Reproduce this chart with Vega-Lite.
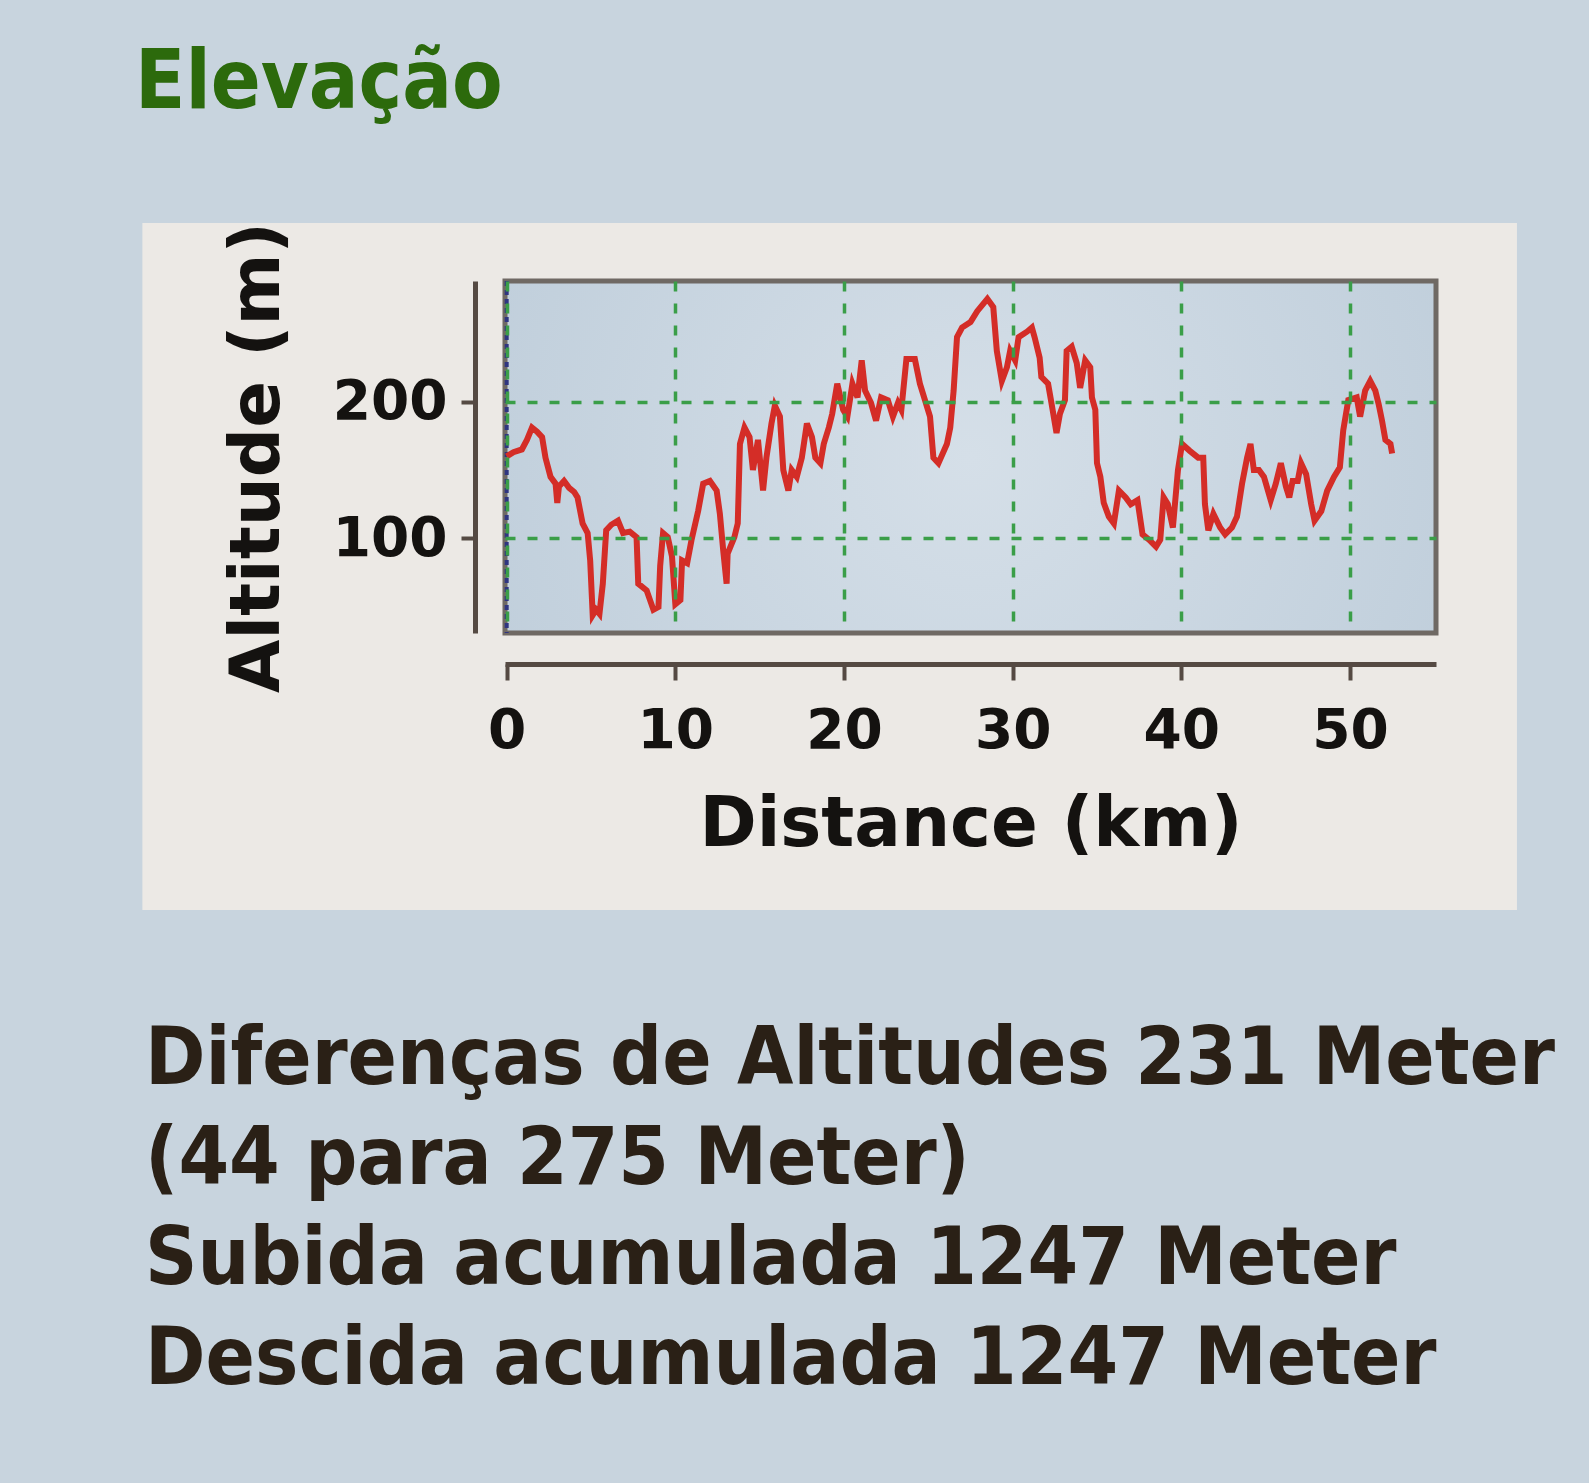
{
  "$schema": "https://vega.github.io/schema/vega-lite/v6.json",
  "width": 931,
  "height": 352,
  "autosize": {"type": "none"},
  "padding": {"left": 505, "top": 281, "right": 153, "bottom": 850},
  "background": "#c8d4de",
  "title": {
    "text": "Elevação",
    "anchor": "start",
    "frame": "group",
    "orient": "top",
    "baseline": "alphabetic",
    "offset": 32,
    "dx": -370,
    "font": "DejaVu Sans Condensed, DejaVu Sans",
    "fontSize": 82,
    "fontWeight": "bold",
    "color": "#2c6a0c"
  },
  "config": {
    "view": {"stroke": null},
    "axis": {
      "grid": true,
      "gridColor": "#3a9e48",
      "gridDash": [10, 12],
      "gridWidth": 3.5,
      "gridOpacity": 1,
      "domainColor": "#554a43",
      "domainWidth": 5,
      "tickColor": "#554a43",
      "tickWidth": 4,
      "labelFont": "DejaVu Sans",
      "labelFontSize": 55,
      "labelFontWeight": "bold",
      "labelColor": "#141210",
      "labelFlush": false,
      "labelOverlap": false,
      "titleFont": "DejaVu Sans",
      "titleFontSize": 69,
      "titleFontWeight": "bold",
      "titleColor": "#141210"
    }
  },
  "layer": [
    {
      "data": {"values": [{"panel": "chart"}]},
      "mark": {"type": "rect", "fill": "#ece9e5"},
      "encoding": {
        "x": {"datum": -21.6, "type": "quantitative", "scale": {"domain": [-0.1, 55.1], "nice": false, "zero": false}},
        "x2": {"datum": 59.9},
        "y": {"datum": 330.3, "type": "quantitative", "scale": {"domain": [31, 288], "nice": false, "zero": false}},
        "y2": {"datum": -171.3}
      }
    },
    {
      "data": {"values": [{"panel": "plot"}]},
      "mark": {
        "type": "rect",
        "fill": {"gradient": "radial", "x1": 0.5, "y1": 0.5, "x2": 0.5, "y2": 0.5, "r1": 0, "r2": 0.75,
          "stops": [{"offset": 0, "color": "#d5dfe8"}, {"offset": 1, "color": "#b9c9d7"}]},
        "stroke": "#6f6964",
        "strokeWidth": 5
      },
      "encoding": {
        "x": {"datum": -0.1, "type": "quantitative", "scale": {"domain": [-0.1, 55.1], "nice": false, "zero": false}},
        "x2": {"datum": 55.1},
        "y": {"datum": 288, "type": "quantitative", "scale": {"domain": [31, 288], "nice": false, "zero": false}},
        "y2": {"datum": 31}
      }
    },
    {
      "data": {"values": [{"km": 0}]},
      "mark": {"type": "rule", "stroke": "#2f3580", "strokeDash": [5, 4], "strokeWidth": 4},
      "encoding": {
        "x": {"field": "km", "type": "quantitative", "scale": {"domain": [-0.1, 55.1], "nice": false, "zero": false}}
      }
    },
    {
      "data": {"values": [
        {"km": 0.0, "alt": 160}, {"km": 0.4, "alt": 163}, {"km": 0.9, "alt": 165}, {"km": 1.2, "alt": 172},
        {"km": 1.5, "alt": 181}, {"km": 1.8, "alt": 178}, {"km": 2.1, "alt": 174}, {"km": 2.3, "alt": 159},
        {"km": 2.6, "alt": 145}, {"km": 2.9, "alt": 140}, {"km": 3.0, "alt": 126}, {"km": 3.1, "alt": 138},
        {"km": 3.4, "alt": 142}, {"km": 3.7, "alt": 137}, {"km": 4.0, "alt": 134}, {"km": 4.2, "alt": 130},
        {"km": 4.5, "alt": 111}, {"km": 4.8, "alt": 104}, {"km": 4.95, "alt": 84}, {"km": 5.1, "alt": 44},
        {"km": 5.3, "alt": 48}, {"km": 5.5, "alt": 45}, {"km": 5.7, "alt": 67}, {"km": 5.9, "alt": 106},
        {"km": 6.2, "alt": 110}, {"km": 6.6, "alt": 113}, {"km": 6.9, "alt": 104}, {"km": 7.3, "alt": 105},
        {"km": 7.7, "alt": 101}, {"km": 7.8, "alt": 67}, {"km": 8.3, "alt": 62}, {"km": 8.5, "alt": 55},
        {"km": 8.7, "alt": 48}, {"km": 9.0, "alt": 50}, {"km": 9.1, "alt": 80}, {"km": 9.27, "alt": 104},
        {"km": 9.55, "alt": 101}, {"km": 9.8, "alt": 87}, {"km": 10.0, "alt": 52}, {"km": 10.3, "alt": 55},
        {"km": 10.4, "alt": 84}, {"km": 10.7, "alt": 82}, {"km": 10.96, "alt": 99}, {"km": 11.35, "alt": 120},
        {"km": 11.65, "alt": 140}, {"km": 12.05, "alt": 142}, {"km": 12.45, "alt": 135}, {"km": 12.64, "alt": 118},
        {"km": 12.84, "alt": 91}, {"km": 13.04, "alt": 67}, {"km": 13.1, "alt": 89}, {"km": 13.5, "alt": 101},
        {"km": 13.7, "alt": 111}, {"km": 13.83, "alt": 169}, {"km": 14.1, "alt": 181}, {"km": 14.4, "alt": 174},
        {"km": 14.6, "alt": 150}, {"km": 14.9, "alt": 172}, {"km": 15.2, "alt": 135}, {"km": 15.4, "alt": 159},
        {"km": 15.7, "alt": 184}, {"km": 15.9, "alt": 197}, {"km": 16.2, "alt": 189}, {"km": 16.4, "alt": 150},
        {"km": 16.7, "alt": 135}, {"km": 16.9, "alt": 150}, {"km": 17.2, "alt": 145}, {"km": 17.5, "alt": 159},
        {"km": 17.8, "alt": 184}, {"km": 18.1, "alt": 174}, {"km": 18.3, "alt": 159}, {"km": 18.6, "alt": 155},
        {"km": 18.8, "alt": 169}, {"km": 19.1, "alt": 181}, {"km": 19.3, "alt": 191}, {"km": 19.6, "alt": 213},
        {"km": 19.95, "alt": 194}, {"km": 20.2, "alt": 189}, {"km": 20.5, "alt": 213}, {"km": 20.8, "alt": 203},
        {"km": 21.05, "alt": 230}, {"km": 21.25, "alt": 208}, {"km": 21.6, "alt": 199}, {"km": 21.9, "alt": 186},
        {"km": 22.2, "alt": 203}, {"km": 22.6, "alt": 201}, {"km": 22.9, "alt": 189}, {"km": 23.2, "alt": 199},
        {"km": 23.4, "alt": 194}, {"km": 23.7, "alt": 231}, {"km": 24.2, "alt": 231}, {"km": 24.5, "alt": 213},
        {"km": 24.8, "alt": 201}, {"km": 25.1, "alt": 189}, {"km": 25.3, "alt": 159}, {"km": 25.6, "alt": 155},
        {"km": 26.1, "alt": 169}, {"km": 26.3, "alt": 181}, {"km": 26.5, "alt": 208}, {"km": 26.7, "alt": 247},
        {"km": 27.0, "alt": 254}, {"km": 27.5, "alt": 258}, {"km": 27.9, "alt": 266}, {"km": 28.5, "alt": 275},
        {"km": 28.85, "alt": 269}, {"km": 29.06, "alt": 237}, {"km": 29.36, "alt": 215}, {"km": 29.66, "alt": 225},
        {"km": 29.85, "alt": 237}, {"km": 30.15, "alt": 230}, {"km": 30.35, "alt": 247}, {"km": 30.85, "alt": 251},
        {"km": 31.14, "alt": 254}, {"km": 31.3, "alt": 247}, {"km": 31.6, "alt": 232}, {"km": 31.7, "alt": 218},
        {"km": 32.1, "alt": 213}, {"km": 32.3, "alt": 199}, {"km": 32.6, "alt": 177}, {"km": 32.8, "alt": 191},
        {"km": 33.1, "alt": 201}, {"km": 33.2, "alt": 237}, {"km": 33.5, "alt": 240}, {"km": 33.8, "alt": 228},
        {"km": 34.0, "alt": 210}, {"km": 34.3, "alt": 230}, {"km": 34.6, "alt": 225}, {"km": 34.7, "alt": 203},
        {"km": 34.9, "alt": 194}, {"km": 35.0, "alt": 155}, {"km": 35.2, "alt": 145}, {"km": 35.4, "alt": 126},
        {"km": 35.7, "alt": 116}, {"km": 36.0, "alt": 111}, {"km": 36.3, "alt": 135}, {"km": 36.7, "alt": 130},
        {"km": 37.0, "alt": 125}, {"km": 37.4, "alt": 128}, {"km": 37.7, "alt": 103}, {"km": 38.1, "alt": 99},
        {"km": 38.5, "alt": 94}, {"km": 38.75, "alt": 99}, {"km": 38.95, "alt": 130}, {"km": 39.2, "alt": 125},
        {"km": 39.5, "alt": 108}, {"km": 39.8, "alt": 150}, {"km": 40.04, "alt": 169}, {"km": 40.5, "alt": 164},
        {"km": 41.0, "alt": 159}, {"km": 41.3, "alt": 159}, {"km": 41.4, "alt": 125}, {"km": 41.6, "alt": 106},
        {"km": 41.9, "alt": 118}, {"km": 42.3, "alt": 108}, {"km": 42.6, "alt": 103}, {"km": 43.0, "alt": 108},
        {"km": 43.3, "alt": 116}, {"km": 43.6, "alt": 140}, {"km": 43.9, "alt": 159}, {"km": 44.1, "alt": 169},
        {"km": 44.3, "alt": 150}, {"km": 44.6, "alt": 150}, {"km": 44.9, "alt": 145}, {"km": 45.3, "alt": 128},
        {"km": 45.6, "alt": 140}, {"km": 45.9, "alt": 155}, {"km": 46.2, "alt": 138}, {"km": 46.4, "alt": 130},
        {"km": 46.6, "alt": 142}, {"km": 46.9, "alt": 142}, {"km": 47.1, "alt": 155}, {"km": 47.4, "alt": 147},
        {"km": 47.7, "alt": 125}, {"km": 47.9, "alt": 113}, {"km": 48.3, "alt": 120}, {"km": 48.65, "alt": 135},
        {"km": 49.05, "alt": 145}, {"km": 49.4, "alt": 152}, {"km": 49.6, "alt": 179}, {"km": 49.9, "alt": 201},
        {"km": 50.4, "alt": 203}, {"km": 50.6, "alt": 189}, {"km": 50.9, "alt": 208}, {"km": 51.2, "alt": 215},
        {"km": 51.5, "alt": 208}, {"km": 51.7, "alt": 198}, {"km": 51.9, "alt": 186}, {"km": 52.1, "alt": 172},
        {"km": 52.4, "alt": 169}, {"km": 52.5, "alt": 162}
      ]},
      "mark": {"type": "line", "stroke": "#d42d27", "strokeWidth": 6, "strokeJoin": "miter"},
      "encoding": {
        "x": {
          "field": "km", "type": "quantitative",
          "scale": {"domain": [-0.1, 55.1], "nice": false, "zero": false},
          "axis": {"zindex": 1, "values": [0, 10, 20, 30, 40, 50], "format": "d", "offset": 31, "title": "Distance (km)",
            "tickSize": 16, "labelPadding": 24, "titlePadding": 32}
        },
        "y": {
          "field": "alt", "type": "quantitative",
          "scale": {"domain": [31, 288], "nice": false, "zero": false},
          "axis": {"zindex": 1, "values": [100, 200], "format": "d", "offset": 30, "title": "Altitude (m)",
            "tickSize": 14, "labelPadding": 14, "titlePadding": 40}
        }
      }
    },
    {
      "data": {"values": [{"note": "summary"}]},
      "mark": {"type": "text", "align": "left", "baseline": "alphabetic", "font": "DejaVu Sans Condensed, DejaVu Sans", "fontSize": 81,
        "fontWeight": "bold",
        "color": "#2a2016", "lineHeight": 100,
        "text": ["Diferenças de Altitudes 231 Meter", "(44 para 275 Meter)", "Subida acumulada 1247 Meter", "Descida acumulada 1247 Meter"]},
      "encoding": {
        "x": {"datum": -21.44, "type": "quantitative", "scale": {"domain": [-0.1, 55.1], "nice": false, "zero": false}},
        "y": {"datum": -298.3, "type": "quantitative", "scale": {"domain": [31, 288], "nice": false, "zero": false}}
      }
    }
  ]
}
